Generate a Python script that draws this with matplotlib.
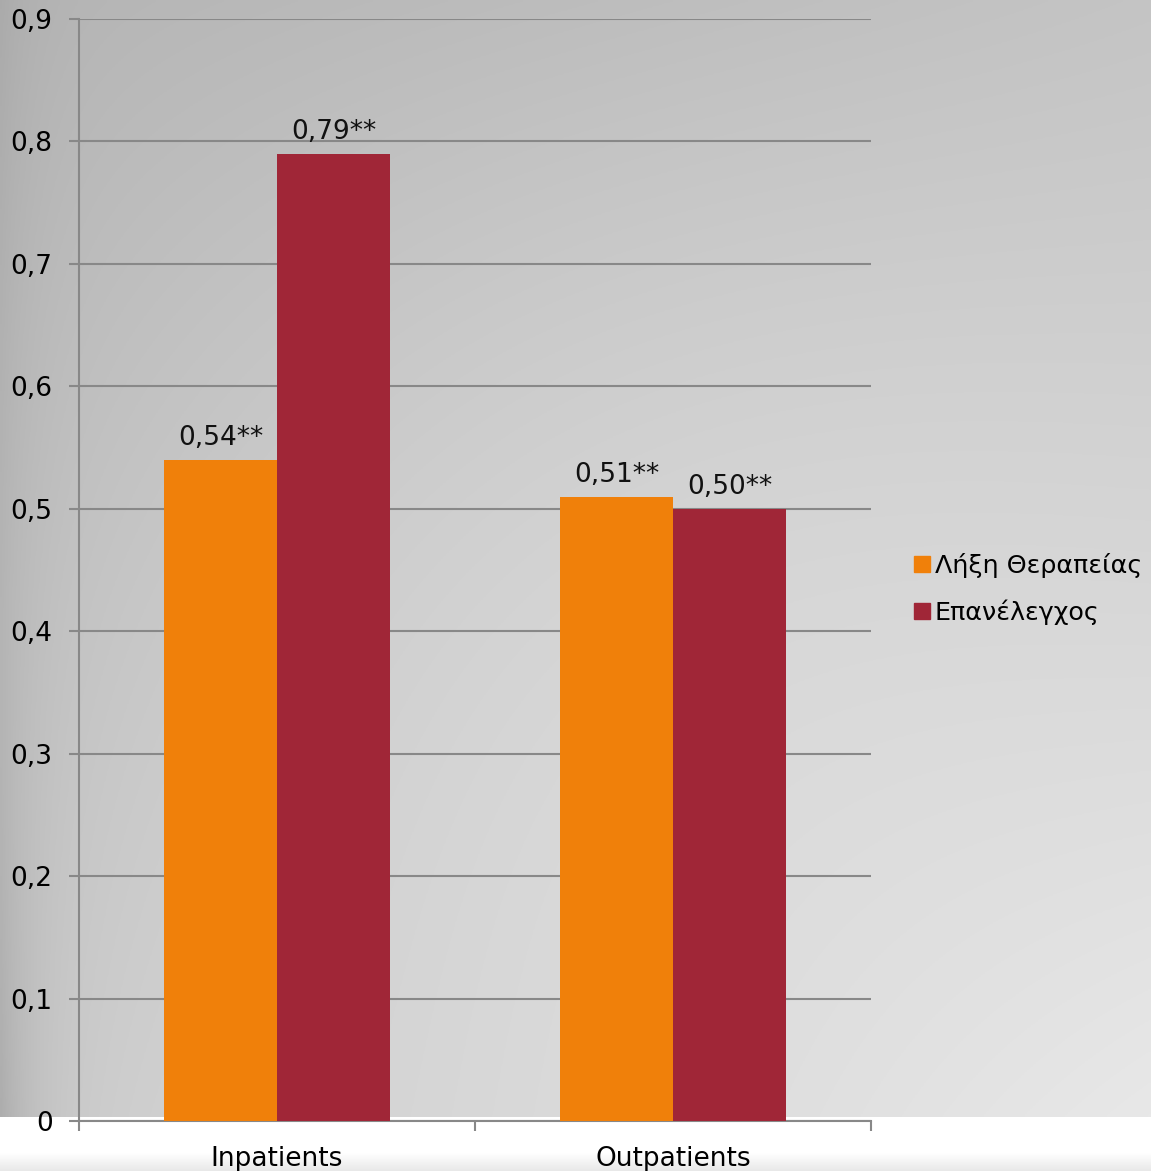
import numpy as np
import matplotlib
matplotlib.use('Agg')
import matplotlib.pyplot as plt
from matplotlib.ticker import FuncFormatter, FixedLocator
from matplotlib.patches import Patch

groups = ['Inpatients', 'Outpatients']
series = ['Λήξη Θεραπείας', 'Επανέλεγχος']
end_of_treatment = [0.54, 0.51]
follow_up = [0.79, 0.50]
value_labels = [['0,54**', '0,51**'], ['0,79**', '0,50**']]
colors = ['#F0800A', '#A02637']

plt.rcParams['font.family'] = ['DejaVu Sans']
W, H = 1151, 1171
fig = plt.figure(figsize=(W / 100, H / 100), dpi=100, facecolor='white')

# background gradient (gray, darker at left/top, lighter to bottom right)
bg_bottom = (H - 1117) / H
bg = fig.add_axes([0, bg_bottom, 1, 1 - bg_bottom], zorder=-5)
xx, yy = np.meshgrid(np.linspace(0, 1, 400), np.linspace(0, 1, 400))
tl, tr, bl, br = 0.71, 0.77, 0.80, 0.91
v = tl * (1 - xx) * (1 - yy) + tr * xx * (1 - yy) + bl * (1 - xx) * yy + br * xx * yy
v = v + 0.03 * np.sin(np.pi * xx) * np.sin(np.pi * yy)
v = v - 0.04 * np.exp(-xx / 0.03) - 0.08 * np.exp(-xx / 0.035) * yy ** 3
bg.imshow(np.dstack([v, v, v]), aspect='auto', extent=[0, 1, 1, 0])
bg.axis('off')

# thin shadow at the very bottom
sh = fig.add_axes([0, 0, 1, 18 / H], zorder=-5)
g = np.linspace(0.91, 1.0, 50)[:, None] * np.ones((50, 10))
sh.imshow(np.dstack([g, g, g]), aspect='auto', extent=[0, 1, 0, 1], origin='lower')
sh.axis('off')

ax = fig.add_axes([79 / W, (H - 1121) / H, (871 - 79) / W, (1121 - 19) / H])
ax.patch.set_alpha(0)

x = np.arange(len(groups))
bw = 0.285
b1 = ax.bar(x - bw / 2, end_of_treatment, bw, color=colors[0], label=series[0], zorder=3)
b2 = ax.bar(x + bw / 2, follow_up, bw, color=colors[1], label=series[1], zorder=3)

for bars, labs in zip([b1, b2], value_labels):
    for rect, lab in zip(bars, labs):
        ax.annotate(lab, (rect.get_x() + rect.get_width() / 2, rect.get_height()),
                    xytext=(0, 6), textcoords='offset points', ha='center', va='bottom',
                    fontsize=19, color='#111111')

ax.set_xlim(-0.5, 1.5)
ax.set_ylim(0, 0.9)
ax.set_yticks(np.arange(0, 0.91, 0.1))
ax.yaxis.set_major_formatter(FuncFormatter(lambda v, p: '0' if abs(v) < 1e-9 else f'{v:.1f}'.replace('.', ',')))
ax.yaxis.grid(True, color='#888888', linewidth=1.5, zorder=0)
ax.set_xticks(x)
ax.set_xticklabels(groups)
ax.xaxis.set_minor_locator(FixedLocator([-0.5, 0.5, 1.5]))
ax.tick_params(axis='x', which='major', length=0, pad=18, labelsize=19)
ax.tick_params(axis='x', which='minor', length=7, width=1.5, color='#888888')
ax.tick_params(axis='y', length=7, width=1.5, color='#888888', pad=12, labelsize=19)
for s in ['top', 'right']:
    ax.spines[s].set_visible(False)
for s in ['left', 'bottom']:
    ax.spines[s].set_color('#888888')
    ax.spines[s].set_linewidth(1.5)

handles = [Patch(color=c) for c in colors]
fig.legend(handles, series, loc='center left', bbox_to_anchor=(914 / W, 1 - 589 / H),
           frameon=False, fontsize=18.3, handlelength=0.62, handleheight=0.62,
           handletextpad=0.2, labelspacing=0.85, borderpad=0, borderaxespad=0)

fig.savefig('out.png', dpi=100)
